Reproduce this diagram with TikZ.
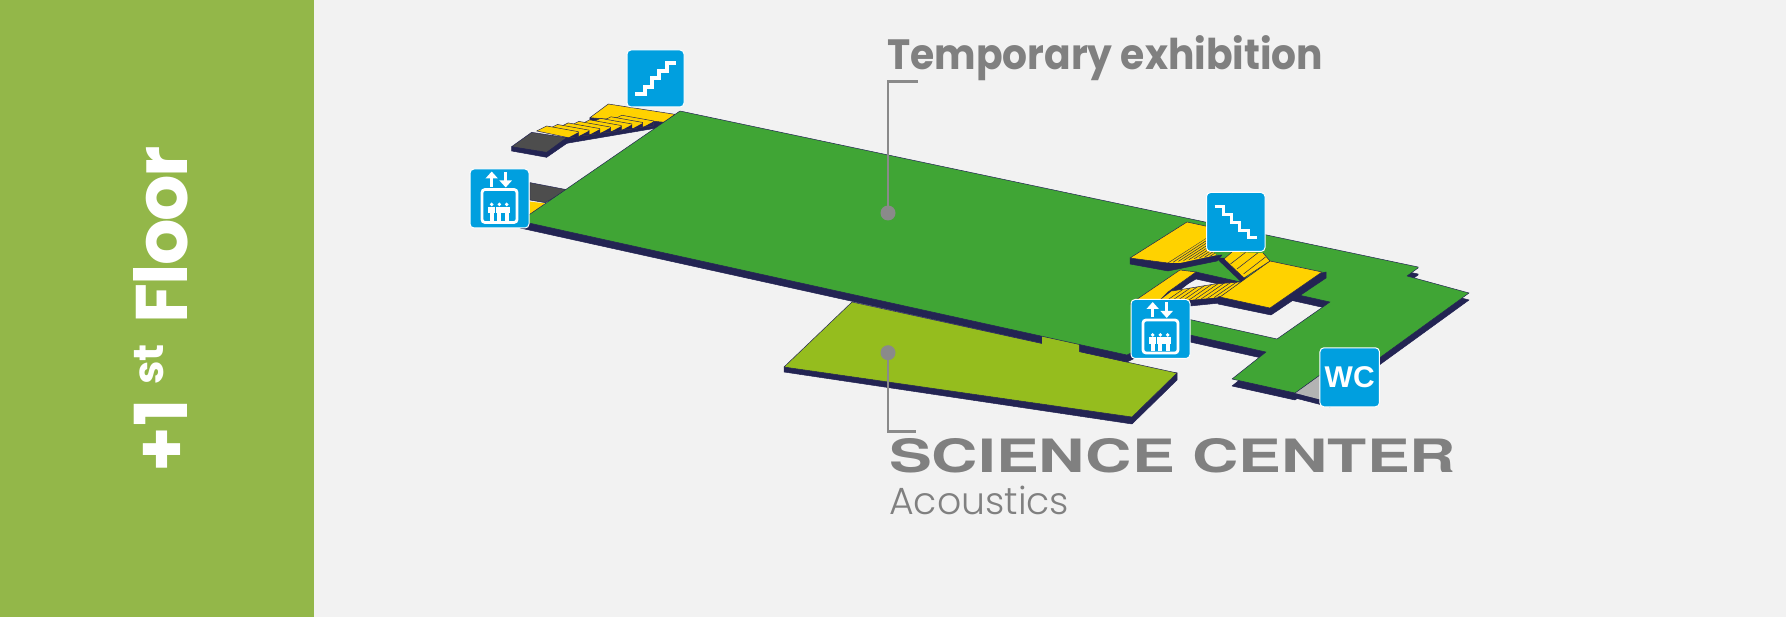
\documentclass[tikz,border=0pt]{standalone}
\usepackage{fontspec}
\setmainfont{Lato}
\newfontfamily\lbllight{Poppins Light}
\newfontfamily\floorfont{Poppins}
\newfontfamily\wcfont{Liberation Sans}
\newfontfamily\logofont{TeX Gyre Heros}
\usetikzlibrary{arrows.meta}
\definecolor{bgc}{HTML}{F2F2F2}
\definecolor{bandc}{HTML}{93B749}
\definecolor{navy}{HTML}{232453}
\definecolor{mgreen}{HTML}{40A535}
\definecolor{lgreen}{HTML}{95BD1E}
\definecolor{ylw}{HTML}{FFD200}
\definecolor{dgrey}{HTML}{4D4D4D}
\definecolor{wgrey}{HTML}{B3B3B3}
\definecolor{iconblue}{HTML}{009FDF}
\definecolor{txtgrey}{HTML}{808080}
\definecolor{leadc}{HTML}{8A8A8A}
\tikzset{
  edgeline/.style={draw=navy,line width=0.5pt,line join=round},
  stepline/.style={draw=navy,line width=0.5pt},
  shadowfill/.style={fill=navy,draw=navy,line width=0.5pt,line join=round},
  leader/.style={draw=leadc,line width=2.4pt},
  leaddot/.style={circle,fill=leadc,inner sep=0pt,minimum size=15pt},
  iconbox/.style={fill=iconblue,draw=white,line width=1pt,rounded corners=4pt},
  iconline/.style={draw=white,line width=3.8pt},
  arr/.style={draw=white,line width=3.2pt,-{Triangle[width=12pt,length=7pt]}},
  lifticon/.pic={
    \path[iconbox] (0,0) rectangle (59,59);
    \draw[arr] (21.7,18) -- (21.7,2.5);
    \draw[arr] (35.7,3) -- (35.7,18.5);
    \draw[draw=white,line width=2.8pt,rounded corners=3pt] (12,20.5) rectangle (47,53.5);
    \foreach \px in {21.7,29.3,36.7}{
      \fill[white] (\px,35.4) circle (1.9pt);
      \fill[white] ({\px-3.3},38) rectangle ({\px+3.3},44.5);
      \fill[white] ({\px-1.9},44.5) rectangle ({\px+1.9},52);
    }
  }
}
\newcommand{\mainoutline}{(520,221) -- (680,111) -- (1418,267) -- (1418,268) -- (1407,276) -- (1469,293) -- (1360,372) -- (1320,375) -- (1295,393) -- (1232,379) -- (1266,352) -- (1190,335) -- (1137,350) -- (1127,355) -- cycle}
\newcommand{\mainhole}{(1196,272) -- (1330,302) -- (1277,339) -- (1192,320) -- (1135,307) -- cycle}
\begin{document}
\begin{tikzpicture}[x=1pt,y=-1pt]
\useasboundingbox (0,0) rectangle (1786,617);
\fill[bgc] (0,0) rectangle (1786,617);
\fill[bandc] (0,0) rectangle (314,617);
\node[rotate=90,anchor=base west,inner sep=0pt,text=white] (floor) at (187,473)
  {\floorfont\bfseries\fontsize{73}{73}\selectfont +1\hspace{15pt}\raisebox{24pt}{\fontsize{42}{42}\selectfont st}\hspace{21pt}{\addfontfeature{LetterSpace=-3}Floor}};

% stair behind the lift at the upper left
\begin{scope}[shift={(440,30)},x=0.3333pt,y=-0.3333pt]
  \path[fill=dgrey,edgeline] (270,458) -- (385,480) -- (315,518) -- (270,510) -- cycle;
  \path[fill=ylw] (270,515) -- (315,520) -- (270,555) -- cycle;
\end{scope}

% upper-left stairs
\begin{scope}[shift={(505,95)},x=0.3333pt,y=-0.3333pt]
  \path[shadowfill] (185,145) -- (450,100) -- (512,62) -- (440,80) -- (185,125) -- cycle;
  \path[shadowfill] (255,68) -- (255,80) -- (310,75) -- (310,40) -- cycle;
  \path[fill=ylw,edgeline] (255,68) -- (310,27) -- (510,58) -- (480,82) -- (440,78) -- (335,68) -- (300,72) -- cycle;
  \foreach \k in {7,6,...,0}{
    \begin{scope}[shift={({\k*32.2},{\k*-4.6})}]
      \path[fill=ylw,edgeline] (95,108) -- (125,93) -- (220,110) -- (220,125) -- (190,128) -- cycle;
      \path[fill=navy] (190,128) -- (220,125) -- (220,112) -- cycle;
    \end{scope}
  }
  \path[shadowfill] (20,155) -- (20,168) -- (125,187) -- (190,142) -- (185,128) -- cycle;
  \path[fill=dgrey,edgeline] (20,155) -- (80,112) -- (185,128) -- (125,172) -- cycle;
\end{scope}

% science floor
\path[shadowfill] (784,367) -- (784,372) -- (1132,424) -- (1177,380) -- (1177,373) -- cycle;
\path[fill=lgreen,edgeline] (852,302) -- (1177,373) -- (1132,417) -- (784,367) -- cycle;

% main floor shadow
\path[shadowfill,even odd rule] [shift={(0,7)}] \mainoutline \mainhole;
\path[fill=lgreen] (1042,335) -- (1079,343) -- (1079,353) -- (1042,345) -- cycle;

% wc wall
\path[shadowfill] (1295,393) -- (1295,398) -- (1330,407) -- (1330,402) -- cycle;
\path[fill=wgrey] (1295,393) -- (1320,375) -- (1330,375) -- (1330,402) -- cycle;

% main floor
\path[fill=mgreen,edgeline,even odd rule] \mainoutline \mainhole;

% right stairs: lower landing
\path[fill=navy] (1180,272) -- (1197,272) -- (1198,276) -- (1178,292) -- (1168,299) -- (1160,300) -- cycle;
\path[fill=ylw,edgeline] (1130,304) -- (1180,270) -- (1196,272) -- (1168,292) -- (1150,310) -- cycle;
% lower flight
\path[shadowfill] (1165,312) -- (1190,306) -- (1220,303) -- (1240,290) -- (1220,290) -- (1170,300) -- cycle;
\path[fill=ylw] (1150,308) -- (1172,291) -- (1215,284) -- (1240,282) -- (1222,297) -- (1190,300) -- (1170,312) -- cycle;
\begin{scope}
  \clip (1150,308) -- (1172,291) -- (1215,284) -- (1240,282) -- (1222,297) -- (1190,300) -- (1170,312) -- cycle;
  \foreach \t in {0,...,11}{
    \draw[stepline] ({1150+\t*8},{312-\t*1.8}) -- +(32,-22);
  }
\end{scope}
\path[edgeline] (1172,291) -- (1215,284) -- (1240,282);
% big landing
\path[shadowfill] (1218,297) -- (1218,304) -- (1271,315) -- (1326,278) -- (1326,272) -- cycle;
\path[fill=ylw,edgeline] (1270,261) -- (1322,272) -- (1270,308) -- (1220,297) -- (1245,279) -- cycle;
% strut
\path[fill=navy] (1216,258) -- (1225,258) -- (1247,277) -- (1241,282) -- cycle;
% right flight
\path[fill=ylw] (1224,259) -- (1232,252) -- (1263,253) -- (1270,261) -- (1244,278) -- cycle;
\begin{scope}
  \clip (1224,259) -- (1232,252) -- (1263,253) -- (1270,261) -- (1244,278) -- cycle;
  \foreach \t in {1,...,3}{
    \draw[stepline] ({1224+\t*6.5},{259+\t*5}) -- +(22,-17);
  }
\end{scope}
\path[edgeline] (1224,259) -- (1232,252) (1263,253) -- (1270,261) -- (1244,278) -- (1224,259);
% upper landing
\path[shadowfill] (1130,258) -- (1130,264) -- (1168,271) -- (1217,261) -- (1222,255) -- (1168,262) -- cycle;
\path[fill=ylw,edgeline] (1130,258) -- (1187,222) -- (1210,227) -- (1207,238) -- (1168,263) -- cycle;
% upper flight
\path[fill=ylw] (1168,263) -- (1207,238) -- (1210,250) -- (1217,255) -- (1180,263) -- cycle;
\begin{scope}
  \clip (1168,263) -- (1207,238) -- (1210,250) -- (1217,255) -- (1180,263) -- cycle;
  \foreach \t in {0,...,9}{
    \draw[stepline] ({1168+\t*5.2},{263-\t*0.8}) -- +(40,-26);
  }
\end{scope}

% icons
\path[iconbox] (627,50) rectangle (684,107);
\draw[iconline] (635.3,94) -- (644.7,94) -- (644.7,87.3) -- (652,87.3) -- (652,78.3) -- (659.3,78.3) -- (659.3,70.7) -- (667,70.7) -- (667,63.3) -- (676,63.3);
\path[iconbox] (1206.5,192.5) rectangle (1265,251.5);
\draw[iconline] (1214.5,206.5) -- (1223.5,206.5) -- (1223.5,214.5) -- (1231.5,214.5) -- (1231.5,222.5) -- (1239.5,222.5) -- (1239.5,230.5) -- (1248.5,230.5) -- (1248.5,237.5) -- (1256.5,237.5);
\pic at (470,169) {lifticon};
\pic at (1131,299.5) {lifticon};
\node[iconbox,minimum width=59.5pt,minimum height=59pt,inner sep=0pt,text=white,font=\wcfont\bfseries\fontsize{30}{30}\selectfont] (wc) at (1349.7,377.3) {WC};

% leaders
\node[leaddot] (topdot) at (888,213) {};
\coordinate (topcorner) at (888,81.7);
\coordinate (topend) at (917.7,81.7);
\draw[leader] (topdot.center) -- (topcorner) -- (topend);
\node[leaddot] (botdot) at (888,352.7) {};
\coordinate (botcorner) at (888,431.7);
\coordinate (botend) at (916,431.7);
\draw[leader] (botdot.center) -- (botcorner) -- (botend);

% labels
\node[anchor=base west,inner sep=0pt,text=txtgrey] (templabel) at (887,69.3) {\scalebox{1}[1.08]{\resizebox{436pt}{!}{\floorfont\bfseries\fontsize{40}{40}\selectfont Temporary exhibition}}};
\node[anchor=south west,inner sep=0pt,text=txtgrey] (logo) at (889,473.5) {\resizebox{567pt}{34pt}{\logofont\bfseries SCIENCE CENTER}};
\node[anchor=base west,inner sep=0pt,text=txtgrey] (acoustics) at (889,514) {\resizebox{180pt}{!}{\lbllight\fontsize{40}{40}\selectfont Acoustics}};
\end{tikzpicture}
\end{document}
